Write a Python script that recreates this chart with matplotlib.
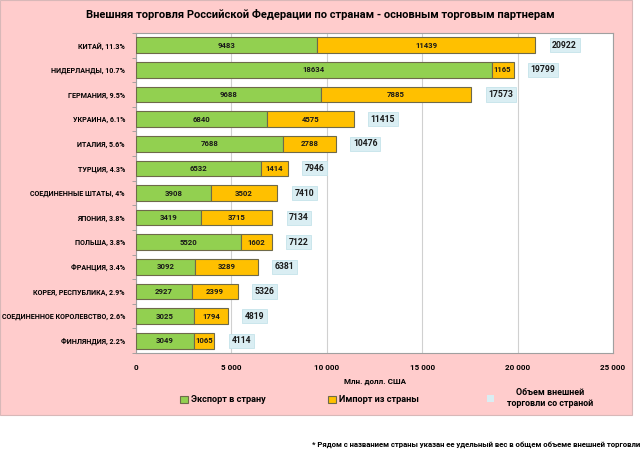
import numpy as np
import matplotlib
matplotlib.use("Agg")
import matplotlib.pyplot as plt
from matplotlib.patches import Patch, Rectangle

plt.rcParams['font.family'] = ['Roboto', 'DejaVu Sans']

# Data
countries = ["КИТАЙ, 11.3%", "НИДЕРЛАНДЫ, 10.7%", "ГЕРМАНИЯ, 9.5%", "УКРАИНА, 6.1%",
             "ИТАЛИЯ, 5.6%", "ТУРЦИЯ, 4.3%", "СОЕДИНЕННЫЕ ШТАТЫ, 4%", "ЯПОНИЯ, 3.8%",
             "ПОЛЬША, 3.8%", "ФРАНЦИЯ, 3.4%", "КОРЕЯ, РЕСПУБЛИКА, 2.9%",
             "СОЕДИНЕННОЕ КОРОЛЕВСТВО, 2.6%", "ФИНЛЯНДИЯ, 2.2%"]
export = [9483, 18634, 9688, 6840, 7688, 6532, 3908, 3419, 5520, 3092, 2927, 3025, 3049]
imports = [11439, 1165, 7885, 4575, 2788, 1414, 3502, 3715, 1602, 3289, 2399, 1794, 1065]
totals = [20922, 19799, 17573, 11415, 10476, 7946, 7410, 7134, 7122, 6381, 5326, 4819, 4114]
xticks = [0, 5000, 10000, 15000, 20000, 25000]
xtick_labels = ["0", "5 000", "10 000", "15 000", "20 000", "25 000"]

green = "#92D050"
orange = "#FFC000"
cyan = "#DAEEF3"
edge = "#6E6A4A"

fig = plt.figure(figsize=(6.4, 4.49), dpi=100)
fig.patches.append(Rectangle((0, 1 - 415 / 449), 632 / 640, 415 / 449,
                             transform=fig.transFigure, facecolor="#FFCCCC",
                             edgecolor="#D8B8B8", linewidth=0.8, zorder=-10))

ax = fig.add_axes([136 / 640, 1 - 353 / 449, (613 - 136) / 640, (353 - 33) / 449])
ax.set_facecolor("white")

y = np.arange(len(countries))
h = 0.64
ax.barh(y, export, h, color=green, edgecolor=edge, linewidth=0.8, zorder=3)
ax.barh(y, imports, h, left=export, color=orange, edgecolor=edge, linewidth=0.8, zorder=3)

for i in range(len(countries)):
    ax.text(export[i] / 2, i, str(export[i]), ha="center", va="center",
            fontsize=5.6, fontweight="bold", color="#1a1a1a", zorder=4)
    ax.text(export[i] + imports[i] / 2, i, str(imports[i]), ha="center", va="center",
            fontsize=5.6, fontweight="bold", color="#1a1a1a", zorder=4)
    ax.annotate(str(totals[i]), xy=(totals[i], i), xytext=(17, 0), textcoords="offset pixels",
                ha="left", va="center", fontsize=6.2, fontweight="bold", color="#1a1a1a",
                bbox=dict(boxstyle="square,pad=0.3", facecolor=cyan, edgecolor="#C5E3EA",
                          linewidth=0.6), zorder=4)

ax.set_xlim(0, 25000)
ax.set_ylim(len(countries) - 0.5, -0.5)
ax.set_xticks(xticks)
ax.set_xticklabels(xtick_labels, fontsize=5.8, fontweight="bold")
ax.set_yticks(y)
ax.set_yticklabels(countries, fontsize=5.1, fontweight="bold")
ax.set_yticks(np.arange(len(countries) + 1) - 0.5, minor=True)
ax.tick_params(axis="y", which="major", length=0, pad=8)
ax.tick_params(axis="y", which="minor", length=3, color="#999999")
ax.tick_params(axis="x", length=0, pad=8)
ax.grid(axis="x", color="#D0D0D0", linewidth=0.8, zorder=0)
for s in ax.spines.values():
    s.set_color("#A0A0A0")
ax.set_xlabel("Млн. долл. США", fontsize=5.8, fontweight="bold", labelpad=5)

fig.text(0.5, 1 - 15 / 449, "Внешняя торговля Российской Федерации по странам - основным торговым партнерам",
         ha="center", va="center", fontsize=8.0, fontweight="bold")

handles = [Patch(facecolor=green, edgecolor=edge, linewidth=0.8),
           Patch(facecolor=orange, edgecolor=edge, linewidth=0.8)]
labels = ["Экспорт в страну", "Импорт из страны"]
leg1 = fig.legend(handles, labels, ncol=2, loc="center left",
                  bbox_to_anchor=(172 / 640, 1 - 400 / 449),
                  frameon=False, prop=dict(size=6.6, weight="bold"), handlelength=0.8,
                  handleheight=0.8, handletextpad=0.4, columnspacing=6.8)
leg2 = fig.legend([Patch(facecolor=cyan, edgecolor="none")],
                  ["Объем внешней\nторговли со страной"], loc="center left",
                  bbox_to_anchor=(479 / 640, 1 - 398 / 449),
                  frameon=False, prop=dict(size=6.4, weight="bold"), handlelength=0.8,
                  handleheight=0.8, handletextpad=1.4)
for t in leg2.get_texts():
    t.set_multialignment("center")

fig.text(640 / 640, 1 - 445 / 449,
         "* Рядом с названием страны указан ее удельный вес в общем объеме внешней торговли",
         ha="right", va="center", fontsize=5.6, fontweight="bold")

plt.savefig("out.png", dpi=100)
plt.close()
